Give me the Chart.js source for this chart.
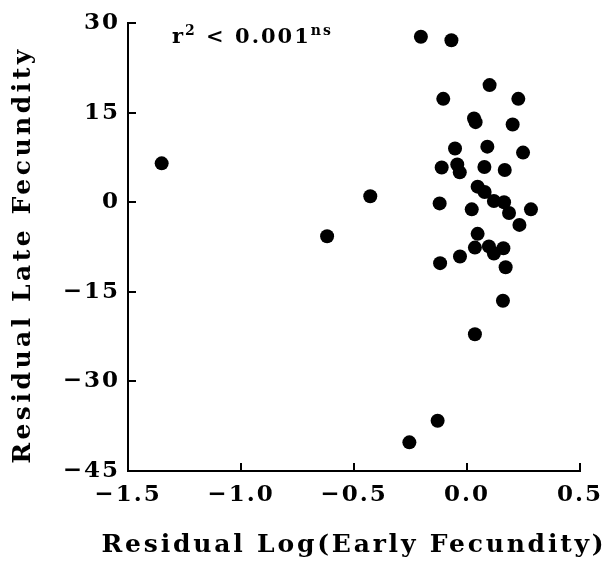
<!DOCTYPE html>
<html>
<head>
<meta charset="utf-8">
<script src="https://cdn.jsdelivr.net/npm/chart.js@4"></script>
<style>
  body { margin: 0; background: #fff; }
</style>
</head>
<body>
<canvas id="plot" width="606" height="565"></canvas>
<script>
// residual log(early fecundity) vs residual late fecundity
const xValues = [-1.351, -0.204, -0.069, 0.100, -0.105, 0.227, 0.031, 0.038, 0.202, -0.053,
  0.090, 0.248, -0.112, -0.043, -0.032, 0.077, 0.167, 0.047, 0.078, -0.428,
  0.119, 0.164, -0.121, 0.021, 0.186, 0.283, 0.232, -0.619, 0.047, 0.035,
  0.097, 0.119, 0.161, -0.031, -0.119, 0.171, 0.159, 0.035, -0.130, -0.255];
const yValues = [6.5, 27.7, 27.1, 19.6, 17.3, 17.3, 14.0, 13.4, 13.0, 9.0,
  9.3, 8.3, 5.8, 6.3, 5.0, 5.9, 5.4, 2.6, 1.7, 1.0,
  0.2, 0.0, -0.2, -1.2, -1.8, -1.2, -3.8, -5.7, -5.3, -7.6,
  -7.4, -8.6, -7.7, -9.1, -10.2, -10.9, -16.5, -22.1, -36.6, -40.2];

const xTicks = [-1.5, -1.0, -0.5, 0.0, 0.5];
const yTicks = [-45, -30, -15, 0, 15, 30];

const xTitle = 'Residual Log(Early Fecundity)';
const yTitle = 'Residual Late Fecundity';

const points = xValues.map((x, i) => ({ x: x, y: yValues[i] }));
const serif = '"DejaVu Serif", serif';
const minus = s => s.replace('-', '\u2212');

// the original is set in a loosely spaced typeface
const spacing = {
  id: 'spacing',
  beforeLayout(chart) { chart.ctx.letterSpacing = '2px'; },
  beforeDraw(chart) { chart.ctx.letterSpacing = '2px'; }
};

// axis titles drawn by hand so chart.js doesn't squeeze the wide x title into the plot width
const axisTitles = {
  id: 'axisTitles',
  afterDraw(chart) {
    const ctx = chart.ctx;
    const area = chart.chartArea;
    ctx.save();
    ctx.fillStyle = '#000';
    ctx.font = 'bold 25px ' + serif;
    ctx.textAlign = 'center';
    ctx.textBaseline = 'middle';
    ctx.letterSpacing = '2.8px';
    ctx.fillText(xTitle, (area.left + area.right) / 2, 545);
    ctx.translate(23, 255);
    ctx.rotate(-Math.PI / 2);
    ctx.letterSpacing = '3.5px';
    ctx.fillText(yTitle, 0, 0);
    ctx.restore();
  }
};

// r² < 0.001 with superscripts, top left of the plot area
const statLabel = {
  id: 'statLabel',
  afterDraw(chart) {
    const ctx = chart.ctx;
    const area = chart.chartArea;
    let x = area.left + 44;
    const base = area.top + 20;
    const parts = [
      { t: 'r', size: 21, dy: 0 },
      { t: '2', size: 14, dy: -8 },
      { t: ' < 0.001', size: 21, dy: 0 },
      { t: 'ns', size: 14, dy: -8 }
    ];
    ctx.save();
    ctx.fillStyle = '#000';
    ctx.textBaseline = 'alphabetic';
    ctx.textAlign = 'left';
    ctx.letterSpacing = '2px';
    parts.forEach(p => {
      ctx.font = 'bold ' + p.size + 'px ' + serif;
      ctx.fillText(p.t, x, base + p.dy);
      x += ctx.measureText(p.t).width;
    });
    ctx.restore();
  }
};

const noPad = axis => {
  axis.paddingLeft = 0; axis.paddingRight = 0;
  axis.paddingTop = 0; axis.paddingBottom = 0;
};

new Chart(document.getElementById('plot'), {
  type: 'scatter',
  data: {
    datasets: [{
      data: points,
      backgroundColor: '#000',
      borderWidth: 0,
      pointRadius: 7,
      pointHoverRadius: 7
    }]
  },
  options: {
    responsive: false,
    animation: false,
    layout: { padding: { top: 23, right: 26, left: 0, bottom: 0 } },
    plugins: {
      legend: { display: false },
      tooltip: { enabled: false }
    },
    scales: {
      x: {
        type: 'linear',
        min: -1.5,
        max: 0.5,
        afterBuildTicks: axis => { axis.ticks = xTicks.map(v => ({ value: v })); },
        afterFit: axis => { axis.height = 94; noPad(axis); },
        border: { display: true, color: '#000', width: 2 },
        grid: { drawOnChartArea: false, drawTicks: true, tickLength: -8, color: '#000', lineWidth: 2 },
        ticks: {
          color: '#000',
          padding: 18,
          maxRotation: 0,
          font: { family: serif, size: 23, weight: 'bold' },
          callback: v => minus(v.toFixed(1))
        }
      },
      y: {
        type: 'linear',
        min: -45,
        max: 30,
        afterBuildTicks: axis => { axis.ticks = yTicks.map(v => ({ value: v })); },
        afterFit: axis => { axis.width = 128; noPad(axis); },
        border: { display: true, color: '#000', width: 2 },
        grid: { drawOnChartArea: false, drawTicks: true, tickLength: -8, color: '#000', lineWidth: 2 },
        ticks: {
          color: '#000',
          padding: 16,
          font: { family: serif, size: 23, weight: 'bold' },
          callback: v => minus(v.toFixed(0))
        }
      }
    }
  },
  plugins: [spacing, axisTitles, statLabel]
});
</script>
</body>
</html>
